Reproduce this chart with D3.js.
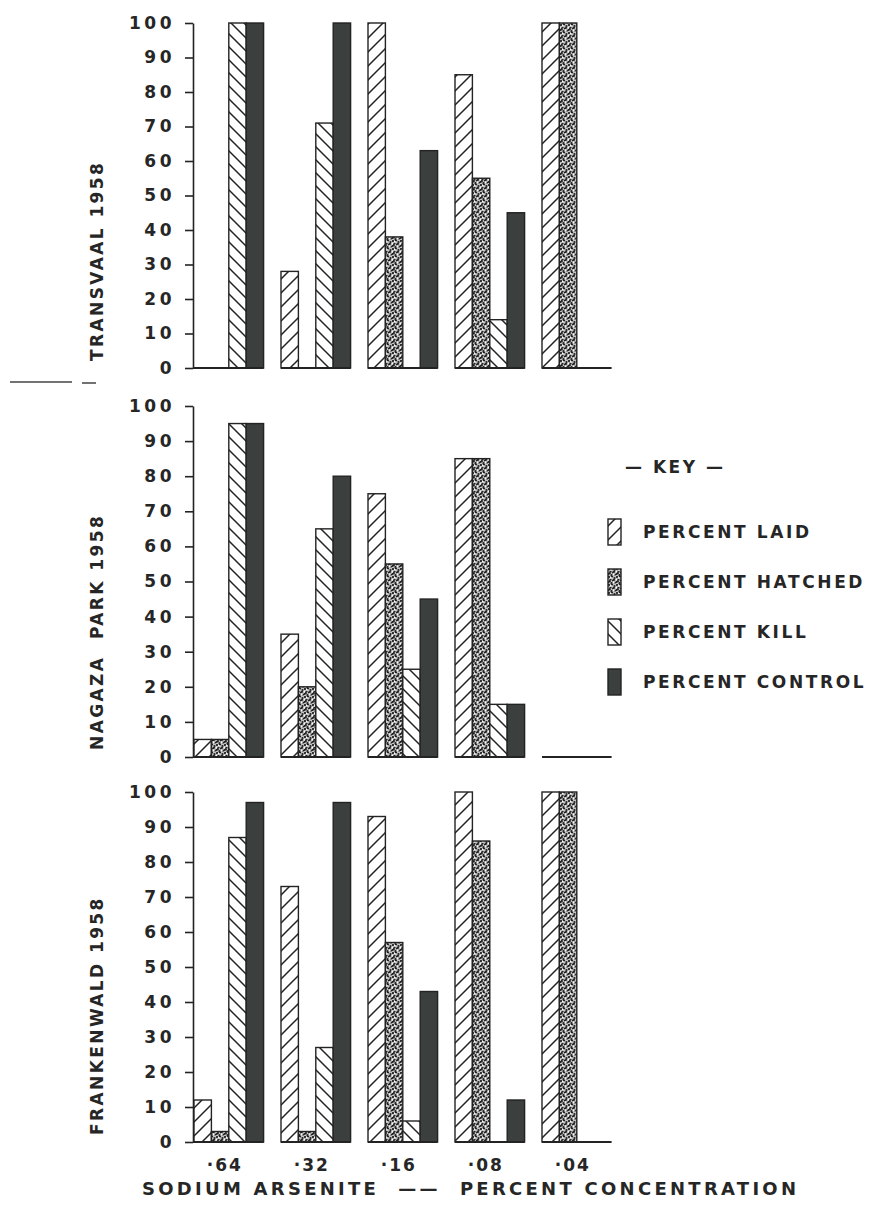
<!DOCTYPE html>
<html>
<head>
<meta charset="utf-8">
<script src="https://cdn.jsdelivr.net/npm/d3@7"></script>
<style>
  html, body { margin: 0; padding: 0; background: #ffffff; }
  svg { display: block; }
  text { font-family: "DejaVu Sans", Verdana, sans-serif; fill: #262626; }
</style>
</head>
<body>
<div id="chart"></div>
<script>
// ---------------- DATA ----------------
const categories = ["·64", "·32", "·16", "·08", "·04"];
const seriesNames = ["PERCENT LAID", "PERCENT HATCHED", "PERCENT KILL", "PERCENT CONTROL"];
const panelNames = ["TRANSVAAL 1958", "NAGAZA  PARK 1958", "FRANKENWALD 1958"];
const yTicks = [0, 10, 20, 30, 40, 50, 60, 70, 80, 90, 100];
const xTitle = "SODIUM ARSENITE  ——  PERCENT CONCENTRATION";
const keyTitle = "— KEY —";

const transvaalLaid    = [0, 28, 100, 85, 100];
const transvaalHatched = [0, 0, 38, 55, 100];
const transvaalKill    = [100, 71, 0, 14, 0];
const transvaalControl = [100, 100, 63, 45, 0];

const nagazaLaid    = [5, 35, 75, 85, 0];
const nagazaHatched = [5, 20, 55, 85, 0];
const nagazaKill    = [95, 65, 25, 15, 0];
const nagazaControl = [95, 80, 45, 15, 0];

const frankLaid    = [12, 73, 93, 100, 100];
const frankHatched = [3, 3, 57, 86, 100];
const frankKill    = [87, 27, 6, 0, 0];
const frankControl = [97, 97, 43, 12, 0];

const panelSeries = [
  [transvaalLaid, transvaalHatched, transvaalKill, transvaalControl],
  [nagazaLaid, nagazaHatched, nagazaKill, nagazaControl],
  [frankLaid, frankHatched, frankKill, frankControl]
];

// ---------------- LAYOUT ----------------
const W = 881, H = 1218;
const axisX = 193;
const panelLayout = [
  { y0: 368, y100: 23 },
  { y0: 757, y100: 406 },
  { y0: 1142, y100: 792 }
];

const svg = d3.select("#chart").append("svg")
  .attr("width", W).attr("height", H)
  .attr("viewBox", `0 0 ${W} ${H}`);

svg.append("rect").attr("width", W).attr("height", H).attr("fill", "#ffffff");

// ---------------- PATTERNS ----------------
const defs = svg.append("defs");
const ink = "#232323";

function hatch(id, size, forward) {
  const p = defs.append("pattern").attr("id", id)
    .attr("patternUnits", "userSpaceOnUse")
    .attr("width", size).attr("height", size);
  p.append("rect").attr("width", size).attr("height", size).attr("fill", "#ffffff");
  const s = size, q = size / 4;
  const d = forward
    ? `M0,${s} L${s},0 M${-q},${q} L${q},${-q} M${s - q},${s + q} L${s + q},${s - q}`
    : `M0,0 L${s},${s} M${-q},${s - q} L${q},${s + q} M${s - q},${-q} L${s + q},${q}`;
  p.append("path").attr("d", d).attr("stroke", ink).attr("stroke-width", 1.5).attr("fill", "none");
}
hatch("pLaid", 14, true);
hatch("pKill", 13, false);

const stip = defs.append("pattern").attr("id", "pHatched")
  .attr("patternUnits", "userSpaceOnUse").attr("width", 8).attr("height", 8);
stip.append("rect").attr("width", 8).attr("height", 8).attr("fill", "#c4c4c4");
[[1,1],[4,0.5],[6.5,2],[2.5,3.5],[5,4.5],[0.5,6],[3.5,7],[7,6.5],[6,3.8],[1.8,5.2]].forEach(([cx, cy]) => {
  stip.append("circle").attr("cx", cx).attr("cy", cy).attr("r", 1.1).attr("fill", ink);
});
[[2.8,1.8],[5.8,6.2],[0.2,3.6]].forEach(([cx, cy]) => {
  stip.append("circle").attr("cx", cx).attr("cy", cy).attr("r", 0.9).attr("fill", "#ffffff");
});

const fills = ["url(#pLaid)", "url(#pHatched)", "url(#pKill)", "#3b3f3d"];

// ---------------- SCALES ----------------
const x0 = d3.scaleBand().domain(categories)
  .range([194, 611.6]).paddingInner(0.2).paddingOuter(0);
const x1 = d3.scaleBand().domain(seriesNames)
  .range([0, x0.bandwidth()]).padding(0);

// ---------------- PANELS ----------------
panelSeries.forEach((seriesArr, pi) => {
  const L = panelLayout[pi];
  const y = d3.scaleLinear().domain([0, 100]).range([L.y0, L.y100]);
  const g = svg.append("g");

  // axis
  const ax = g.append("g").attr("transform", `translate(${axisX},0)`)
    .call(d3.axisLeft(y).tickValues(yTicks).tickSize(8).tickSizeOuter(0).tickPadding(10));
  ax.select(".domain").attr("stroke", ink).attr("stroke-width", 1.6);
  ax.selectAll(".tick line").attr("stroke", ink).attr("stroke-width", 1.6);
  ax.selectAll(".tick text")
    .style("font-family", "'DejaVu Sans', sans-serif")
    .style("font-size", "17px").style("font-weight", "bold")
    .style("letter-spacing", "3.5px").attr("fill", "#262626");

  // bars
  categories.forEach((cat, ci) => {
    const gx = x0(cat);
    seriesNames.forEach((s, si) => {
      const v = seriesArr[si][ci];
      if (v > 0) {
        g.append("rect")
          .attr("x", gx + x1(s))
          .attr("y", y(v))
          .attr("width", x1.bandwidth())
          .attr("height", y(0) - y(v))
          .attr("fill", fills[si])
          .attr("stroke", ink).attr("stroke-width", 1.4);
      }
    });
    // baseline under the group
    g.append("line")
      .attr("x1", ci === 0 ? axisX : gx).attr("x2", gx + x0.bandwidth())
      .attr("y1", y(0)).attr("y2", y(0))
      .attr("stroke", ink).attr("stroke-width", 1.8);
  });

  // panel label
  g.append("text")
    .attr("transform", `translate(103,${L.y0 - 7}) rotate(-90)`)
    .attr("text-anchor", "start")
    .style("font-size", "17px").style("letter-spacing", "2.4px")
    .style("font-weight", "bold")
    .attr("xml:space", "preserve")
    .text(panelNames[pi]);
});

// scan artefact dash to the left of the middle panel
svg.append("path").attr("d", "M10,382 L72,382 M82,383 L96,383")
  .attr("stroke", "#444").attr("stroke-width", 1.4).attr("fill", "none");

// x category labels
svg.append("g").selectAll("text").data(categories).join("text")
  .attr("x", d => x0(d) + x0.bandwidth() / 2 - 4)
  .attr("y", 1171)
  .attr("text-anchor", "middle")
  .style("font-size", "17px").style("font-weight", "bold").style("letter-spacing", "2px")
  .text(d => d);

// x title
svg.append("text")
  .attr("x", 142).attr("y", 1195)
  .attr("xml:space", "preserve")
  .attr("textLength", 654).attr("lengthAdjust", "spacing")
  .style("font-size", "18px").style("font-weight", "bold")
  .text(xTitle);

// ---------------- LEGEND ----------------
const lg = svg.append("g");
lg.append("text").attr("x", 625).attr("y", 473)
  .style("font-size", "17px").style("font-weight", "bold").style("letter-spacing", "2.5px")
  .text(keyTitle);
const legendY = d3.scalePoint().domain(seriesNames).range([532, 682]);
seriesNames.forEach((s, si) => {
  const cy = legendY(s);
  lg.append("rect").attr("x", 608).attr("y", cy - 13).attr("width", 13).attr("height", 26)
    .attr("fill", fills[si]).attr("stroke", ink).attr("stroke-width", 1.4);
  lg.append("text").attr("x", 643).attr("y", cy + 6)
    .style("font-size", "17px").style("font-weight", "bold").style("letter-spacing", "2.6px")
    .text(s);
});
</script>
</body>
</html>
